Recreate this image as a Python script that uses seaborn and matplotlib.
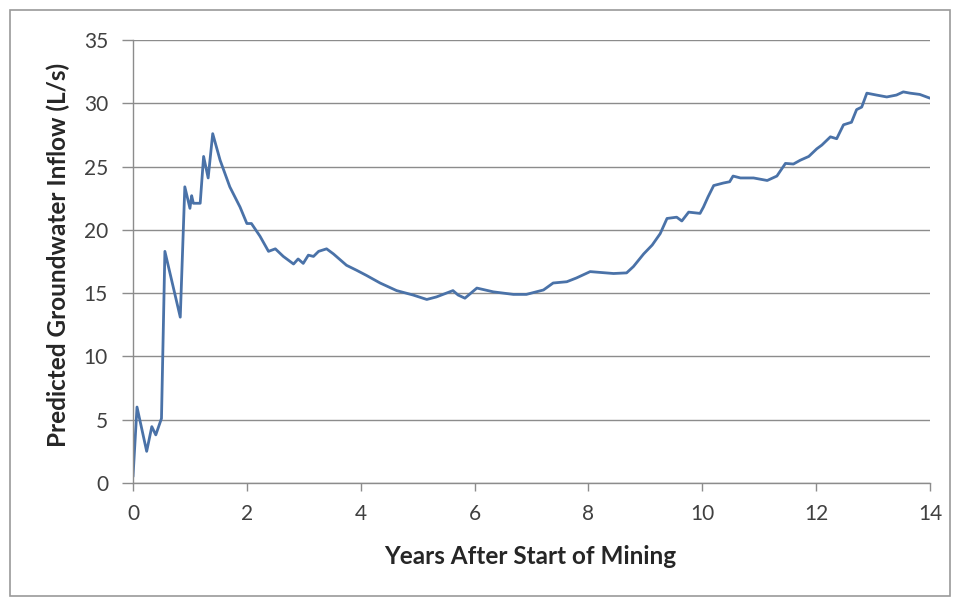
import matplotlib
matplotlib.use("Agg")
import matplotlib.pyplot as plt
from matplotlib.patches import Rectangle
import pandas as pd
import seaborn as sns

# Predicted inflow over the mine life
years = [0.0, 0.07, 0.24, 0.33, 0.40, 0.50, 0.56, 0.83, 0.91, 1.00, 1.03, 1.06,
         1.18, 1.24, 1.32, 1.40, 1.53, 1.70, 1.88, 2.00, 2.08, 2.23, 2.38, 2.50,
         2.64, 2.82, 2.90, 2.99, 3.08, 3.17, 3.26, 3.40, 3.52, 3.75, 3.93, 4.10,
         4.34, 4.63, 4.92, 5.16, 5.33, 5.62, 5.71, 5.83, 6.04, 6.33, 6.68, 6.91,
         7.21, 7.38, 7.62, 7.79, 8.03, 8.44, 8.67, 8.79, 8.97, 9.12, 9.26, 9.38,
         9.55, 9.64, 9.76, 9.96, 10.02, 10.10, 10.20, 10.37, 10.48, 10.54, 10.67,
         10.90, 11.14, 11.31, 11.46, 11.60, 11.72, 11.87, 12.01, 12.10, 12.25,
         12.36, 12.48, 12.62, 12.71, 12.80, 12.89, 13.06, 13.24, 13.41, 13.53,
         13.65, 13.82, 14.0]
inflow = [0.5, 6.0, 2.5, 4.45, 3.8, 5.1, 18.3, 13.1, 23.4, 21.7, 22.7, 22.1,
          22.1, 25.8, 24.1, 27.6, 25.5, 23.4, 21.8, 20.5, 20.5, 19.5, 18.3, 18.5,
          17.9, 17.3, 17.7, 17.35, 18.0, 17.9, 18.3, 18.5, 18.1, 17.2, 16.8, 16.4,
          15.8, 15.2, 14.85, 14.5, 14.7, 15.2, 14.85, 14.6, 15.4, 15.1, 14.9, 14.9,
          15.25, 15.8, 15.9, 16.2, 16.7, 16.55, 16.6, 17.1, 18.1, 18.8, 19.7, 20.9,
          21.0, 20.7, 21.4, 21.3, 21.8, 22.6, 23.5, 23.7, 23.8, 24.25, 24.1,
          24.1, 23.9, 24.25, 25.25, 25.2, 25.5, 25.8, 26.4, 26.7, 27.35,
          27.2, 28.3, 28.5, 29.5, 29.7, 30.8, 30.65, 30.5, 30.65, 30.9,
          30.8, 30.7, 30.4]

x_ticks = [0, 2, 4, 6, 8, 10, 12, 14]
y_ticks = [0, 5, 10, 15, 20, 25, 30, 35]

df = pd.DataFrame({"Years": years, "Inflow": inflow})

sns.set_theme(style="white")
plt.rcParams["font.family"] = ["Lato", "DejaVu Sans"]

fig = plt.figure(figsize=(9.59, 5.97), dpi=100)
ax = fig.add_axes([0.1387, 0.191, 0.8311, 0.742])

sns.lineplot(data=df, x="Years", y="Inflow", ax=ax, color="#4A72A8",
             linewidth=2.0)

ax.set_xlim(0, 14)
ax.set_ylim(0, 35)
ax.set_xticks(x_ticks)
ax.set_yticks(y_ticks)
ax.yaxis.grid(True, color="#8c8c8c", linewidth=1.0)
ax.xaxis.grid(False)
ax.set_axisbelow(True)

for side in ("top", "right"):
    ax.spines[side].set_visible(False)
for side in ("left", "bottom"):
    ax.spines[side].set_color("#8c8c8c")
    ax.spines[side].set_linewidth(1.0)

ax.tick_params(axis="both", which="major", direction="out", width=1.0,
               color="#8c8c8c", labelsize=15, labelcolor="#404040",
               left=True, bottom=True)
ax.tick_params(axis="y", length=8, pad=10)
ax.tick_params(axis="x", length=6, pad=9)

ax.set_xlabel("Years After Start of Mining", fontsize=17.5, fontweight="bold",
              color="#262626")
ax.set_ylabel("Predicted Groundwater Inflow (L/s)", fontsize=17.5,
              fontweight="bold", color="#262626")
ax.xaxis.label.set_va("center")
ax.xaxis.set_label_coords(0.5 + (530 - 531.5) / 797, -(557 - 483) / 443)
ax.yaxis.label.set_va("center")
ax.yaxis.set_label_coords(-(133 - 58) / 797, (483 - 255) / 443)

# Chart frame
fig.patches.append(Rectangle((10 / 959, 1 / 597), 940 / 959, 586 / 597,
                             transform=fig.transFigure, fill=False,
                             edgecolor="#9a9a9a", linewidth=1.2))

fig.savefig("out.png", dpi=100, facecolor="white")
